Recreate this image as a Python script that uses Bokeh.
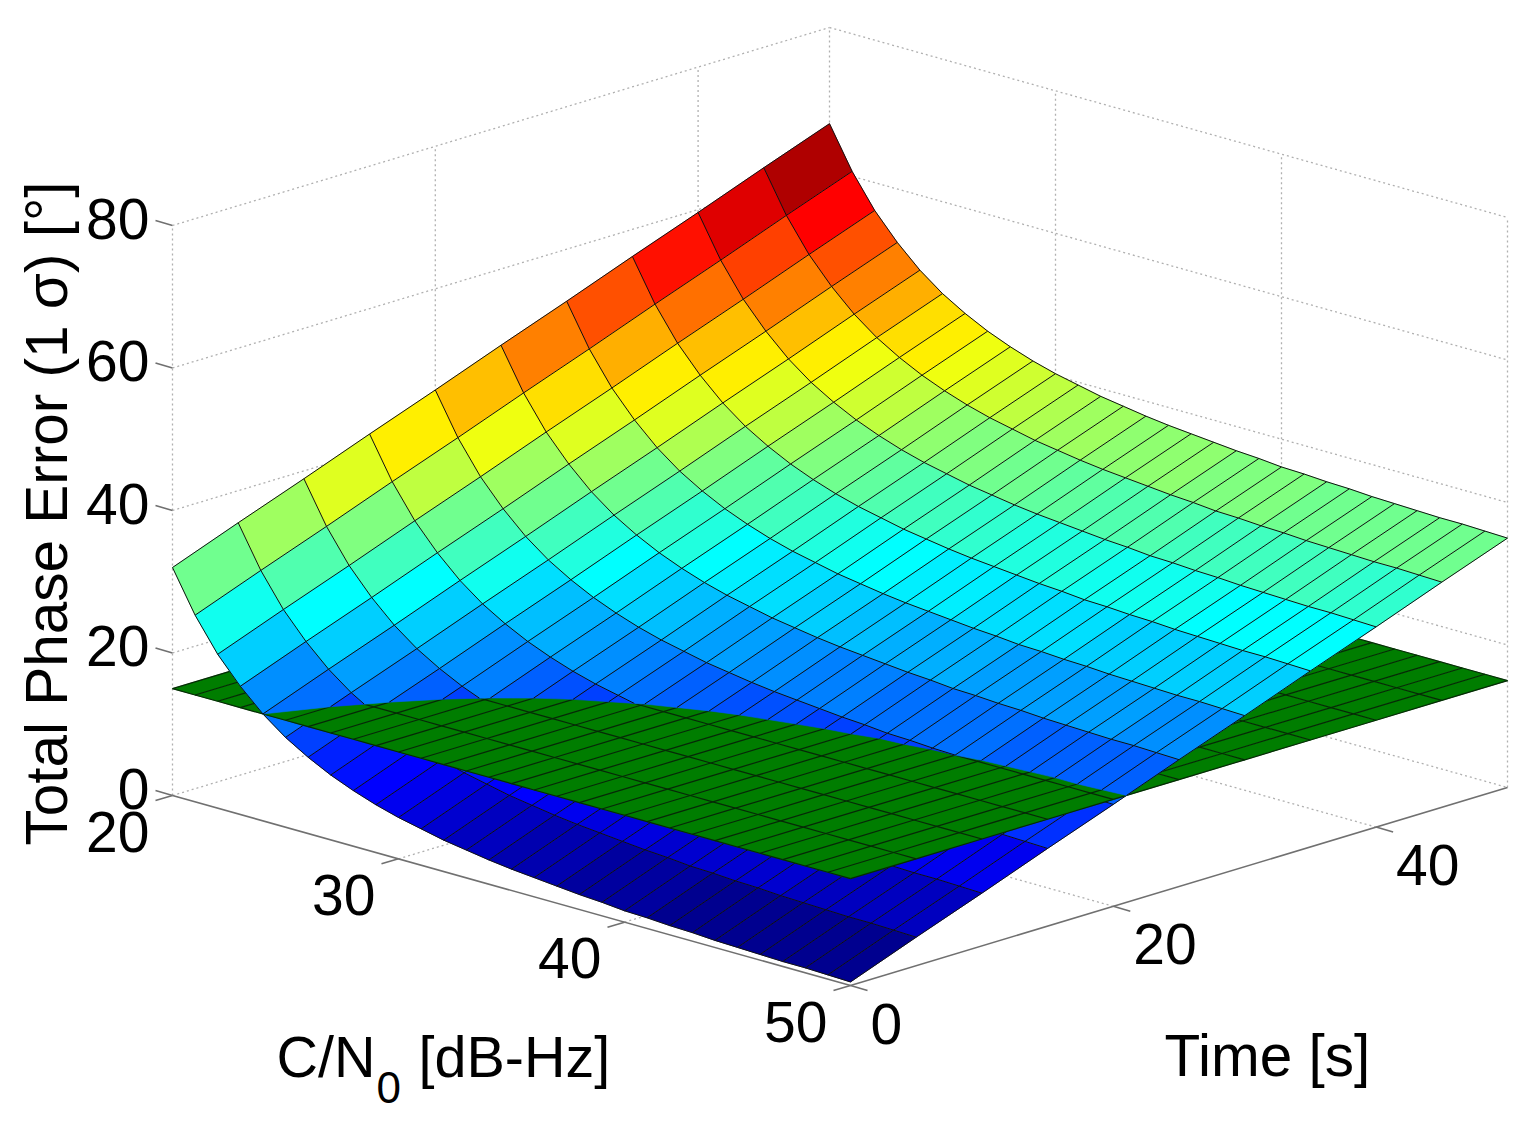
import numpy as np
from bokeh.plotting import figure
from bokeh.models import Range1d, ColumnDataSource
from bokeh.core.properties import value
from bokeh.embed import file_html
from bokeh.resources import INLINE

# ---- data ----
cn0_values = list(range(20, 51))
time_values = [0, 5, 10, 15, 20, 25, 30, 35, 40, 45, 50]
threshold_value = 15

z_t00 = [32.0,26.2,21.6,18.0,15.0,12.6,10.7,9.1,7.8,6.7,5.8,5.1,4.4,3.9,3.4,3.0,2.7,2.4,2.1,1.9,1.6,1.5,1.3,1.2,1.0,0.9,0.8,0.7,0.7,0.6,0.5]
z_t05 = [35.5,29.7,25.1,21.5,18.5,16.1,14.2,12.6,11.3,10.2,9.3,8.6,7.9,7.4,6.9,6.5,6.2,5.9,5.6,5.4,5.1,5.0,4.8,4.7,4.5,4.4,4.3,4.2,4.2,4.1,4.0]
z_t10 = [38.9,33.1,28.5,24.9,21.9,19.5,17.6,16.0,14.7,13.6,12.7,12.0,11.3,10.8,10.3,9.9,9.6,9.3,9.0,8.8,8.5,8.4,8.2,8.1,7.9,7.8,7.7,7.6,7.6,7.5,7.4]
z_t15 = [42.4,36.6,32.0,28.4,25.4,23.0,21.1,19.5,18.2,17.1,16.2,15.5,14.8,14.3,13.8,13.4,13.1,12.8,12.5,12.3,12.0,11.9,11.7,11.6,11.4,11.3,11.2,11.1,11.1,11.0,10.9]
z_t20 = [45.8,40.0,35.4,31.8,28.8,26.4,24.5,22.9,21.6,20.5,19.6,18.9,18.2,17.7,17.2,16.8,16.5,16.2,15.9,15.7,15.4,15.3,15.1,15.0,14.8,14.7,14.6,14.5,14.5,14.4,14.3]
z_t25 = [49.3,43.5,38.9,35.3,32.3,29.9,28.0,26.4,25.1,24.0,23.1,22.4,21.7,21.2,20.7,20.3,20.0,19.7,19.4,19.2,18.9,18.8,18.6,18.5,18.3,18.2,18.1,18.0,18.0,17.9,17.8]
z_t30 = [52.7,46.9,42.3,38.7,35.7,33.3,31.4,29.8,28.5,27.4,26.5,25.8,25.1,24.6,24.1,23.7,23.4,23.1,22.8,22.6,22.3,22.2,22.0,21.9,21.7,21.6,21.5,21.4,21.4,21.3,21.2]
z_t35 = [56.2,50.4,45.8,42.2,39.2,36.8,34.9,33.3,32.0,30.9,30.0,29.3,28.6,28.1,27.6,27.2,26.9,26.6,26.3,26.1,25.8,25.7,25.5,25.4,25.2,25.1,25.0,24.9,24.9,24.8,24.7]
z_t40 = [59.6,53.8,49.2,45.6,42.6,40.2,38.3,36.7,35.4,34.3,33.4,32.7,32.0,31.5,31.0,30.6,30.3,30.0,29.7,29.5,29.2,29.1,28.9,28.8,28.6,28.5,28.4,28.3,28.3,28.2,28.1]
z_t45 = [63.1,57.3,52.7,49.1,46.1,43.7,41.8,40.2,38.9,37.8,36.9,36.2,35.5,35.0,34.5,34.1,33.8,33.5,33.2,33.0,32.7,32.6,32.4,32.3,32.1,32.0,31.9,31.8,31.8,31.7,31.6]
z_t50 = [66.5,60.7,56.1,52.5,49.5,47.1,45.2,43.6,42.3,41.2,40.3,39.6,38.9,38.4,37.9,37.5,37.2,36.9,36.6,36.4,36.1,36.0,35.8,35.7,35.5,35.4,35.3,35.2,35.2,35.1,35.0]

cn0_ticks = [20, 30, 40, 50]
time_ticks = [0, 20, 40]
z_ticks = [0, 20, 40, 60, 80]

Z = np.array([z_t00, z_t05, z_t10, z_t15, z_t20, z_t25, z_t30, z_t35, z_t40, z_t45, z_t50])
C = np.array(cn0_values, float)
T = np.array(time_values, float)

# ---- orthographic view of the 3-D box ----
FONT = "Liberation Sans"
ORIGIN = (850.0, 985.0)
C_SPAN = 30.0; T_SPAN = 50.0
C_VEC = (-678.0, -190.0)   # from C/N0 = 50 to C/N0 = 20
T_VEC = (657.0, -198.0)    # from t = 0 to t = 50
Z_SCALE = 7.125

def proj(c, t, z=0.0):
    a = (50.0 - c) / C_SPAN
    b = t / T_SPAN
    return (ORIGIN[0] + a * C_VEC[0] + b * T_VEC[0],
            ORIGIN[1] + a * C_VEC[1] + b * T_VEC[1] - z * Z_SCALE)

def jet64():
    m, n = 64, 16
    u = np.r_[np.arange(1, n + 1) / n, np.ones(n - 1), np.arange(n, 0, -1) / n]
    g = 8 + np.arange(1, len(u) + 1)
    r, b = g + n, g - n
    J = np.zeros((m, 3))
    for idx, arr in enumerate((r, g, b)):
        keep = (arr >= 1) & (arr <= m)
        J[arr[keep] - 1, idx] = u[keep]
    return ["#%02x%02x%02x" % tuple(int(round(v * 255)) for v in row) for row in J]

JET = jet64()
zmin, zmax = Z.min(), Z.max()

def cmap(v):
    i = int((v - zmin) / (zmax - zmin) * 64)
    return JET[min(max(i, 0), 63)]

def crossing(p, q, level):
    f = (level - p[2]) / (q[2] - p[2])
    return tuple(p[k] + f * (q[k] - p[k]) for k in range(3))

def clip(poly, level, upper):
    out = []
    for k in range(len(poly)):
        p, q = poly[k], poly[(k + 1) % len(poly)]
        pin = (p[2] >= level) == upper
        qin = (q[2] >= level) == upper
        if pin:
            out.append(p)
        if pin != qin:
            out.append(crossing(p, q, level))
    return out

low_polys, up_polys = dict(x=[], y=[], c=[]), dict(x=[], y=[], c=[])
green_polys = dict(x=[], y=[])
low_seg, up_seg, green_seg = dict(x=[], y=[]), dict(x=[], y=[]), dict(x=[], y=[])

def add_poly(store, poly, color=None):
    pts = [proj(*v) for v in poly]
    store["x"].append([a for a, _ in pts])
    store["y"].append([b for _, b in pts])
    if color is not None:
        store["c"].append(color)

def add_seg(store, p, q):
    a, b = proj(*p), proj(*q)
    store["x"].append([a[0], b[0]])
    store["y"].append([a[1], b[1]])

def split_seg(p, q):
    lv = threshold_value
    if p[2] >= lv and q[2] >= lv:
        add_seg(up_seg, p, q)
    elif p[2] < lv and q[2] < lv:
        add_seg(low_seg, p, q)
    else:
        m = crossing(p, q, lv)
        hi, lo = (p, q) if p[2] >= lv else (q, p)
        add_seg(up_seg, hi, m)
        add_seg(low_seg, lo, m)

nt, nc = Z.shape
for j in range(nt):
    for i in range(nc):
        v = (C[i], T[j], Z[j, i])
        if i < nc - 1:
            split_seg(v, (C[i + 1], T[j], Z[j, i + 1]))
            add_seg(green_seg, (C[i], T[j], threshold_value), (C[i + 1], T[j], threshold_value))
        if j < nt - 1:
            split_seg(v, (C[i], T[j + 1], Z[j + 1, i]))
            add_seg(green_seg, (C[i], T[j], threshold_value), (C[i], T[j + 1], threshold_value))
        if i < nc - 1 and j < nt - 1:
            quad = [v, (C[i + 1], T[j], Z[j, i + 1]), (C[i + 1], T[j + 1], Z[j + 1, i + 1]), (C[i], T[j + 1], Z[j + 1, i])]
            col = cmap(Z[j, i])
            hi = clip(quad, threshold_value, True)
            lo = clip(quad, threshold_value, False)
            if len(hi) >= 3:
                add_poly(up_polys, hi, col)
            if len(lo) >= 3:
                add_poly(low_polys, lo, col)
            add_poly(green_polys, [(q[0], q[1], threshold_value) for q in quad])

p = figure(width=1518, height=1117, x_range=Range1d(0, 1518), y_range=Range1d(1117, 0),
           x_axis_location=None, y_axis_location=None, toolbar_location=None,
           output_backend="svg", min_border=0, outline_line_color=None,
           background_fill_color="white", border_fill_color="white")
p.grid.visible = False

# ---- box grid ----
grid = dict(x=[], y=[])
def g(a, b):
    add_seg(grid, a, b)
ZTOP = z_ticks[-1]
for z in z_ticks:
    g((20, 0, z), (20, 50, z))
    g((20, 50, z), (50, 50, z))
for t in time_ticks[1:]:
    g((50, t, 0), (20, t, 0))
    g((20, t, 0), (20, t, ZTOP))
for c in cn0_ticks[1:3]:
    g((c, 0, 0), (c, 50, 0))
    g((c, 50, 0), (c, 50, ZTOP))
g((20, 0, 0), (20, 0, ZTOP))
g((20, 50, 0), (20, 50, ZTOP))
g((50, 50, 0), (50, 50, ZTOP))
p.multi_line("x", "y", source=ColumnDataSource(grid), line_color="#b0b0b0", line_width=1.3, line_dash="2 3")

# ---- axes and ticks ----
ax = dict(x=[], y=[])
add_seg(ax, (20, 0, 0), (50, 0, 0))
add_seg(ax, (50, 0, 0), (50, 50, 0))
for c in cn0_ticks:
    a = proj(c, 0); ax["x"].append([a[0], a[0] - 17]); ax["y"].append([a[1], a[1] + 5])
for t in time_ticks:
    a = proj(50, t); ax["x"].append([a[0], a[0] + 17]); ax["y"].append([a[1], a[1] + 5])
for z in z_ticks:
    a = proj(20, 0, z); ax["x"].append([a[0], a[0] - 17]); ax["y"].append([a[1], a[1] - 5])
p.multi_line("x", "y", source=ColumnDataSource(ax), line_color="#707070", line_width=1.6)

# ---- surfaces ----
p.patches("x", "y", source=ColumnDataSource(low_polys), fill_color="c", line_color="c", line_width=0.6)
p.multi_line("x", "y", source=ColumnDataSource(low_seg), line_color="#101010", line_width=1.0)
p.patches("x", "y", source=ColumnDataSource(green_polys), fill_color="#007d00", line_color="#007d00", line_width=0.6)
p.multi_line("x", "y", source=ColumnDataSource(green_seg), line_color="#062a06", line_width=1.2)
p.patches("x", "y", source=ColumnDataSource(up_polys), fill_color="c", line_color="c", line_width=0.6)
p.multi_line("x", "y", source=ColumnDataSource(up_seg), line_color="#101010", line_width=1.0)

# ---- texts ----
def label(x, y, s, size=57, align="center", baseline="middle", angle=0.0):
    p.text([x], [y], text=[s], text_font=value(FONT), text_font_size=f"{size}px", text_color="#000000",
           text_align=align, text_baseline=baseline, angle=angle)

for z in z_ticks:
    a = proj(20, 0, z)
    label(a[0] - 23, a[1] - 7, str(z), align="right")
for c in cn0_ticks:
    a = proj(c, 0)
    label(a[0] - 23, a[1] + 36, str(c), align="right")
for t in time_ticks:
    a = proj(50, t)
    label(a[0] + 20, a[1] + 38, str(t), align="left")

label(46, 513, "Total Phase Error (1 \u03c3) [\u00b0]", size=58.5, angle=np.pi / 2)
label(276, 1056, "C/N", size=57.5, align="left")
label(376, 1087, "0", size=44, align="left")
label(418, 1056, "[dB-Hz]", size=57.5, align="left")
label(1164, 1055, "Time [s]", size=58.5, align="left")

open("out.html", "w").write(file_html(p, INLINE))
